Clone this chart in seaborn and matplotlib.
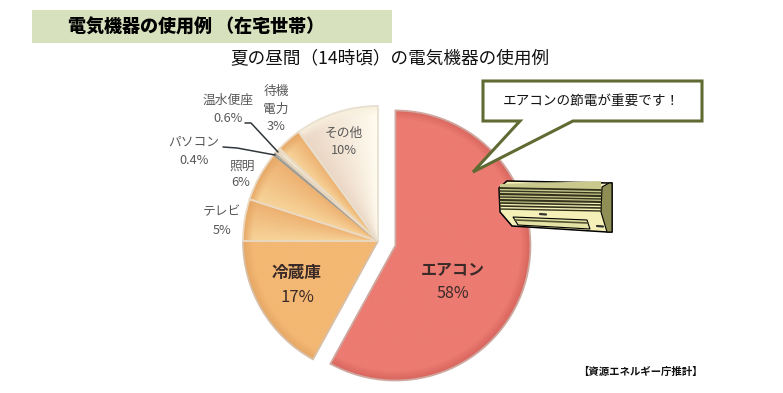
import numpy as np
import matplotlib.pyplot as plt
from matplotlib.patches import Polygon, Rectangle
import seaborn as sns

# ─────────────────────────────────────────────
# Pie — 夏の昼間の電気機器の使用例
# ─────────────────────────────────────────────

labels = ["エアコン", "冷蔵庫", "テレビ", "照明", "パソコン", "温水便座", "待機電力", "その他"]
values = [58, 17, 5, 6, 0.4, 0.6, 3, 10]
explode_px = [18, 0, 0, 0, 0, 0, 0, 0]
# start/end colours across each slice, plus the rim colour
fill_a = ["#EC7B72", "#F3B873", "#EDB070", "#EDB070", "#A9A69C", "#EFE2C8", "#EDB070", "#FFFCF0"]
fill_b = ["#EC7B72", "#F3B873", "#F7D49A", "#F7D49A", "#C4C0B4", "#F4EAD6", "#F7D49A", "#EBD6C4"]
rim = ["#D9675F", "#E6A765", "#E6A765", "#E6A765", "#A9A69C", "#E6D8BC", "#E6A765", "#F8F0DC"]
line_colors = ["#CFA8A0", "#D8BFA6", "#EBD9C2", "#EBD9C2", "#9A978E", "#EBD9C2", "#EBD9C2", "#E8E0D0"]

sns.set_theme(style="white")
plt.rcParams["font.family"] = ["Noto Sans CJK JP", "DejaVu Sans"]

H = 393
GRAY = "#595959"
DARK = "#3A2A28"
OLIVE = "#5F6B32"

fig = plt.figure(figsize=(7.83, 3.93), dpi=100)
ax = fig.add_axes([0, 0, 1, 1])

wedges, _ = ax.pie(values, startangle=90, counterclock=False, center=(378, H - 241),
                   radius=135, explode=explode_px, colors=fill_a, frame=False)

# shading inside each slice: across the angle, then a darker rim
for w, ca, cb, cr, lc in zip(wedges, fill_a, fill_b, rim, line_colors):
    cx, cy = w.center
    r = w.r
    yy, xx = np.mgrid[cy - r:cy + r:300j, cx - r:cx + r:300j]
    dist = np.hypot(xx - cx, yy - cy) / r
    ang = (np.degrees(np.arctan2(yy - cy, xx - cx)) - w.theta1) % 360
    t = np.clip(ang / (w.theta2 - w.theta1), 0, 1)
    cmap_a, cmap_b = np.array(sns.color_palette([ca, cb]))
    rgb = cmap_a[None, None, :] * (1 - t[..., None]) + cmap_b[None, None, :] * t[..., None]
    edge = np.clip((dist - 0.93) / 0.07, 0, 1)[..., None]
    rgb = rgb * (1 - edge) + np.array(sns.color_palette([cr])[0]) * edge
    im = ax.imshow(rgb, extent=(cx - r, cx + r, cy - r, cy + r), origin="lower",
                   zorder=w.get_zorder() + 0.1, aspect="auto", interpolation="bilinear")
    im.set_clip_path(w)
    w.set_facecolor("none")
    w.set_edgecolor(lc)
    w.set_linewidth(1.3)
    w.set_zorder(w.get_zorder() + 0.2)

ax.set_xlim(0, 783)
ax.set_ylim(0, H)
ax.set_aspect("auto")
ax.axis("off")

def label(x, y, s, size=9.2, color=GRAY, weight="normal"):
    ax.text(x, H - y, s, ha="center", va="center", fontsize=size, color=color,
            fontweight=weight, zorder=6)

label(453, 269, "エアコン", 11.5, DARK, "bold")
label(453, 293, "58%", 11.5, DARK)
label(297, 273, "冷蔵庫", 12, DARK, "bold")
label(297, 298, "17%", 12, DARK)
label(222, 212, "テレビ")
label(222, 230, "5%")
label(242, 166, "照明")
label(241, 183, "6%")
label(194, 142, "パソコン")
label(194, 160, "0.4%")
label(228, 100, "温水便座")
label(228, 118, "0.6%")
label(276, 91, "待機")
label(276, 109, "電力")
label(276, 127, "3%")
label(344, 133, "その他")
label(344, 151, "10%")

# leader lines for the thin slices
ax.plot([245, 251, 278], [H - 123, H - 123, H - 152], color="#30373A", lw=1.1, zorder=6)
ax.plot([223, 237, 275], [H - 147, H - 148, H - 155], color="#30373A", lw=1.1, zorder=6)

# heading band and titles
ax.add_patch(Rectangle((32, H - 43), 360, 33, facecolor="#D8E1BE", edgecolor="none"))
ax.text(68, H - 27, "電気機器の使用例 （在宅世帯）", ha="left", va="center",
        fontsize=13, fontweight="black", color="black")
ax.text(390, H - 58, "夏の昼間（14時頃）の電気機器の使用例", ha="center", va="center",
        fontsize=12.7, color="#111111")
ax.text(640, H - 372, "【資源エネルギー庁推計】", ha="center", va="center",
        fontsize=7.5, fontweight="bold", color="#111111")

# callout
callout = [(483, 81), (702, 81), (702, 121), (573, 121), (473, 172), (520, 121), (483, 121)]
ax.add_patch(Polygon([(x, H - y) for x, y in callout], closed=True, facecolor="white",
                     edgecolor=OLIVE, linewidth=2.2, zorder=7))
ax.text(591, H - 101, "エアコンの節電が重要です！", ha="center", va="center",
        fontsize=9.8, color="#111111", zorder=8)

# air conditioner picture
def poly(pts, fc, lw=0.8):
    ax.add_patch(Polygon([(x, H - y) for x, y in pts], closed=True, facecolor=fc,
                         edgecolor="black", linewidth=lw, zorder=7))

poly([(499, 188), (507, 181), (609, 183), (612, 183), (612, 232), (607, 232),
      (512, 226), (500, 212)], "#F5F0B8", 1.1)
poly([(602, 187), (609, 183), (612, 183), (612, 232), (607, 232), (601, 212)], "#8F8F55", 0.8)
ax.add_patch(Polygon([(500, 189), (601, 191), (601, 212), (500, 209)], closed=True,
                     facecolor="#C9C98E", edgecolor="none", zorder=7.5))
for y0, lw in zip([188, 191, 194, 197, 200, 203, 206, 209], [1.3, 1.0, 1.5, 1.0, 1.5, 1.2, 1.2, 1.0]):
    ax.plot([500, 601], [H - y0, H - y0 - 2], color="#33331C", lw=lw, zorder=8)
poly([(513, 217), (587, 220), (590, 229), (518, 225)], "#E4E2A4", 0.8)
ax.plot([515, 588], [H - 220, H - 223], color="#555533", lw=1.2, zorder=8)
ax.plot([540, 546], [H - 214, H - 214.5], color="#333333", lw=1.6, zorder=8)
ax.plot([597, 603], [H - 226, H - 226.5], color="#333333", lw=1.6, zorder=8)

fig.savefig("out.png", dpi=100)
plt.close()
